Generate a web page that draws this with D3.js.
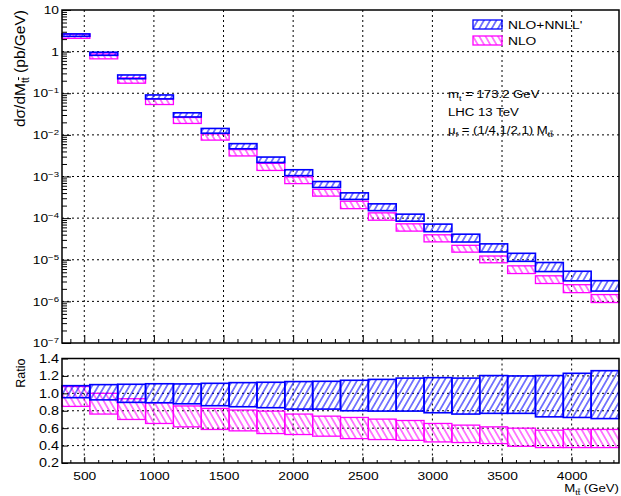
<!DOCTYPE html>
<html>
<head>
<meta charset="utf-8">
<script src="https://cdn.jsdelivr.net/npm/d3@7"></script>
<style>
  body { margin: 0; background: #fff; }
  svg { display: block; font-family: "Liberation Sans", Arial, sans-serif; }
  .grid line { stroke: #000; stroke-width: 1; stroke-dasharray: 2,3; }
  .axis line { stroke: #000; stroke-width: 1; }
  .axis path { display: none; }
</style>
</head>
<body>
<svg width="621" height="496"></svg>
<script>
// bins in M_tt (GeV)
const binLow  = [340, 540, 740, 940, 1140, 1340, 1540, 1740, 1940, 2140, 2340, 2540, 2740, 2940, 3140, 3340, 3540, 3740, 3940, 4140];
const binHigh = [540, 740, 940, 1140, 1340, 1540, 1740, 1940, 2140, 2340, 2540, 2740, 2940, 3140, 3340, 3540, 3740, 3940, 4140, 4340];

// NLO+NNLL' central cross section (pb/GeV)
const nnllCentral = [2.45, 0.88, 0.249, 0.082, 0.0306, 0.0128, 0.00548, 0.0026, 0.00128, 6.65e-4,
                     3.52e-4, 1.9e-4, 1.06e-4, 6.08e-5, 3.5e-5, 2.0e-5, 1.19e-5, 7.13e-6, 4.3e-6, 2.49e-6];

// scale bands divided by the NLO+NNLL' central value (ratio panel)
const nnllHi = [1.088, 1.10, 1.104, 1.11, 1.108, 1.115, 1.123, 1.127, 1.135, 1.138, 1.15, 1.16, 1.175, 1.18, 1.175, 1.204, 1.20, 1.204, 1.23, 1.26];
const nnllLo = [0.95, 0.925, 0.896, 0.892, 0.88, 0.858, 0.846, 0.835, 0.819, 0.819, 0.80, 0.796, 0.796, 0.777, 0.762, 0.77, 0.77, 0.73, 0.723, 0.71];
const nloHi  = [1.078, 1.0, 0.938, 0.892, 0.855, 0.827, 0.808, 0.796, 0.762, 0.738, 0.723, 0.704, 0.688, 0.654, 0.635, 0.615, 0.60, 0.577, 0.585, 0.585];
const nloLo  = [0.85, 0.762, 0.70, 0.654, 0.615, 0.585, 0.569, 0.538, 0.527, 0.508, 0.48, 0.469, 0.46, 0.442, 0.435, 0.423, 0.392, 0.377, 0.377, 0.377];

const xMajor = [500, 1000, 1500, 2000, 2500, 3000, 3500, 4000];
const yMajor = [1e-7, 1e-6, 1e-5, 1e-4, 1e-3, 1e-2, 1e-1, 1, 10];
const ratioMajor = [0.2, 0.4, 0.6, 0.8, 1.0, 1.2, 1.4];

const legendItems = ["NLO+NNLL'", "NLO"];

const BLUE = "#0000ff", MAG = "#ff00ff";
const SX = 1.2; // text in the picture is a bit wider than tall

const svg = d3.select("svg");
const left = 62, right = 619;
const topY0 = 10, topY1 = 343, ratY0 = 358.5, ratY1 = 463;

const x = d3.scaleLinear().domain([340, 4340]).range([left, right]);
const yTop = d3.scaleLog().domain([1e-7, 10]).range([topY1, topY0]);
const yRat = d3.scaleLinear().domain([0.2, 1.4]).range([ratY1, ratY0]);

// hatch patterns
const defs = svg.append("defs");
function hatch(id, color, angle) {
  defs.append("pattern")
    .attr("id", id)
    .attr("patternUnits", "userSpaceOnUse")
    .attr("width", 5.4).attr("height", 5.4)
    .attr("patternTransform", `rotate(${angle})`)
    .append("line")
    .attr("x1", 2.7).attr("y1", -1).attr("x2", 2.7).attr("y2", 7)
    .attr("stroke", color).attr("stroke-width", 1);
}
hatch("hBlue", BLUE, 30);
hatch("hMag", MAG, -30);

const minorX = d3.range(400, 4340, 100).filter(v => v % 500 !== 0);
const minorY = [];
yMajor.slice(0, -1).forEach(d => { for (let k = 2; k <= 9; k++) minorY.push(k * d); });

function stretchTicks(g) {
  g.selectAll("text").each(function() {
    const t = d3.select(this);
    const tx = +t.attr("x") || 0;
    t.attr("x", tx / SX).attr("transform", `scale(${SX},1)`);
  });
}

// subscript "tt-bar": second t carries an overline
function ttbar(sel, fs, dy) {
  sel.append("tspan").attr("font-size", fs).attr("dy", dy).text("t");
  sel.append("tspan").attr("font-size", fs).attr("text-decoration", "overline").text("t");
}

// ---------- top panel ----------
const topPanel = svg.append("g");

topPanel.append("g").attr("class", "grid")
  .selectAll("line").data(xMajor).join("line")
  .attr("x1", d => x(d)).attr("x2", d => x(d))
  .attr("y1", topY0).attr("y2", topY1);
topPanel.append("g").attr("class", "grid")
  .selectAll("line").data(yMajor.slice(1, -1)).join("line")
  .attr("x1", left).attr("x2", right)
  .attr("y1", d => yTop(d)).attr("y2", d => yTop(d));

const idx = d3.range(binLow.length);

// NLO band first, NLO+NNLL' drawn on top
topPanel.append("g").selectAll("rect").data(idx).join("rect")
  .attr("x", i => x(binLow[i]))
  .attr("width", i => x(binHigh[i]) - x(binLow[i]))
  .attr("y", i => yTop(nnllCentral[i] * nloHi[i]))
  .attr("height", i => yTop(nnllCentral[i] * nloLo[i]) - yTop(nnllCentral[i] * nloHi[i]))
  .attr("fill", "url(#hMag)").attr("stroke", MAG).attr("stroke-width", 1.3);
topPanel.append("g").selectAll("rect").data(idx).join("rect")
  .attr("x", i => x(binLow[i]))
  .attr("width", i => x(binHigh[i]) - x(binLow[i]))
  .attr("y", i => yTop(nnllCentral[i] * nnllHi[i]))
  .attr("height", i => yTop(nnllCentral[i] * nnllLo[i]) - yTop(nnllCentral[i] * nnllHi[i]))
  .attr("fill", "url(#hBlue)").attr("stroke", BLUE).attr("stroke-width", 1.6);

// axes of the top panel
topPanel.append("g").attr("class", "axis")
  .attr("transform", `translate(${left},0)`)
  .call(d3.axisLeft(yTop).tickValues(minorY).tickSizeInner(-5).tickSizeOuter(0).tickFormat(""));
const yAx = topPanel.append("g").attr("class", "axis")
  .attr("transform", `translate(${left},0)`)
  .call(d3.axisLeft(yTop).tickValues(yMajor).tickSizeInner(-9).tickSizeOuter(0).tickPadding(3));
yAx.selectAll("text").attr("font-size", 11.5).attr("fill", "#000").each(function(d) {
  const e = Math.round(Math.log10(d));
  const t = d3.select(this).text("");
  if (e === 1) t.text("10");
  else if (e === 0) t.text("1");
  else {
    t.append("tspan").text("10");
    t.append("tspan").attr("font-size", 8).attr("dy", "-0.5em").text("\u2212" + (-e));
  }
});
stretchTicks(yAx);

topPanel.append("g").attr("class", "axis")
  .attr("transform", `translate(0,${topY1})`)
  .call(d3.axisBottom(x).tickValues(minorX).tickSizeInner(-4).tickSizeOuter(0).tickFormat(""));
topPanel.append("g").attr("class", "axis")
  .attr("transform", `translate(0,${topY1})`)
  .call(d3.axisBottom(x).tickValues(xMajor).tickSizeInner(-8).tickSizeOuter(0).tickFormat(""));

topPanel.append("rect")
  .attr("x", left).attr("y", topY0)
  .attr("width", right - left).attr("height", topY1 - topY0)
  .attr("fill", "none").attr("stroke", "#000").attr("stroke-width", 1.5);

// y title
const yTitle = svg.append("text")
  .attr("transform", `translate(25,${topY0}) rotate(-90)`)
  .attr("text-anchor", "end").attr("font-size", 15.5);
yTitle.append("tspan").text("d\u03c3/dM");
ttbar(yTitle, 10.5, 4);
yTitle.append("tspan").attr("dy", -4).text(" (pb/GeV)");

// legend
const leg = svg.append("g");
legendItems.forEach((name, i) => {
  const yy = 20 + i * 16;
  leg.append("rect")
    .attr("x", 473).attr("y", yy).attr("width", 29).attr("height", 9)
    .attr("fill", i === 0 ? "url(#hBlue)" : "url(#hMag)")
    .attr("stroke", i === 0 ? BLUE : MAG).attr("stroke-width", 1.3);
  leg.append("text")
    .attr("transform", `translate(508,${yy + 9}) scale(${SX},1)`)
    .attr("font-size", 11.5).text(name);
});

// annotation
function note(yy) {
  return svg.append("text")
    .attr("transform", `translate(448,${yy}) scale(${SX},1)`)
    .attr("font-size", 11);
}
const n1 = note(98);
n1.append("tspan").text("m");
n1.append("tspan").attr("font-size", 7.5).attr("dy", 3).text("t");
n1.append("tspan").attr("dy", -3).text(" = 173.2 GeV");
note(116).text("LHC 13 TeV");
const n3 = note(134);
n3.append("tspan").text("\u03bc");
n3.append("tspan").attr("font-size", 7.5).attr("dy", 3).text("f");
n3.append("tspan").attr("dy", -3).text(" =  (1/4,1/2,1) M");
ttbar(n3, 7.5, 3);

// ---------- ratio panel ----------
const rat = svg.append("g");

rat.append("g").attr("class", "grid")
  .selectAll("line").data(xMajor).join("line")
  .attr("x1", d => x(d)).attr("x2", d => x(d))
  .attr("y1", ratY0).attr("y2", ratY1);
rat.append("g").attr("class", "grid")
  .selectAll("line").data(ratioMajor.slice(1, -1)).join("line")
  .attr("x1", left).attr("x2", right)
  .attr("y1", d => yRat(d)).attr("y2", d => yRat(d));

rat.append("g").selectAll("rect").data(idx).join("rect")
  .attr("x", i => x(binLow[i]))
  .attr("width", i => x(binHigh[i]) - x(binLow[i]))
  .attr("y", i => yRat(nloHi[i]))
  .attr("height", i => yRat(nloLo[i]) - yRat(nloHi[i]))
  .attr("fill", "url(#hMag)").attr("stroke", MAG).attr("stroke-width", 1.3);
rat.append("g").selectAll("rect").data(idx).join("rect")
  .attr("x", i => x(binLow[i]))
  .attr("width", i => x(binHigh[i]) - x(binLow[i]))
  .attr("y", i => yRat(nnllHi[i]))
  .attr("height", i => yRat(nnllLo[i]) - yRat(nnllHi[i]))
  .attr("fill", "url(#hBlue)").attr("stroke", BLUE).attr("stroke-width", 1.6);

const rAx = rat.append("g").attr("class", "axis")
  .attr("transform", `translate(${left},0)`)
  .call(d3.axisLeft(yRat).tickValues(ratioMajor).tickSizeInner(-6).tickSizeOuter(0)
    .tickPadding(3).tickFormat(d3.format(".1f")));
rAx.selectAll("text").attr("font-size", 12).attr("fill", "#000");
stretchTicks(rAx);

rat.append("g").attr("class", "axis")
  .attr("transform", `translate(0,${ratY1})`)
  .call(d3.axisBottom(x).tickValues(minorX).tickSizeInner(-3).tickSizeOuter(0).tickFormat(""));
const xAx = rat.append("g").attr("class", "axis")
  .attr("transform", `translate(0,${ratY1})`)
  .call(d3.axisBottom(x).tickValues(xMajor).tickSizeInner(-6).tickSizeOuter(0)
    .tickPadding(9).tickFormat(d3.format("d")));
xAx.selectAll("text").attr("font-size", 11.5).attr("fill", "#000");
stretchTicks(xAx);

rat.append("rect")
  .attr("x", left).attr("y", ratY0)
  .attr("width", right - left).attr("height", ratY1 - ratY0)
  .attr("fill", "none").attr("stroke", "#000").attr("stroke-width", 1.5);

svg.append("text")
  .attr("transform", `translate(25,${ratY0}) rotate(-90)`)
  .attr("text-anchor", "end").attr("font-size", 12.5).text("Ratio");

const xt = svg.append("text")
  .attr("transform", `translate(619,492) scale(${SX},1)`)
  .attr("text-anchor", "end").attr("font-size", 11);
xt.append("tspan").text("M");
ttbar(xt, 7.5, 3);
xt.append("tspan").attr("dy", -3).text(" (GeV)");
</script>
</body>
</html>
